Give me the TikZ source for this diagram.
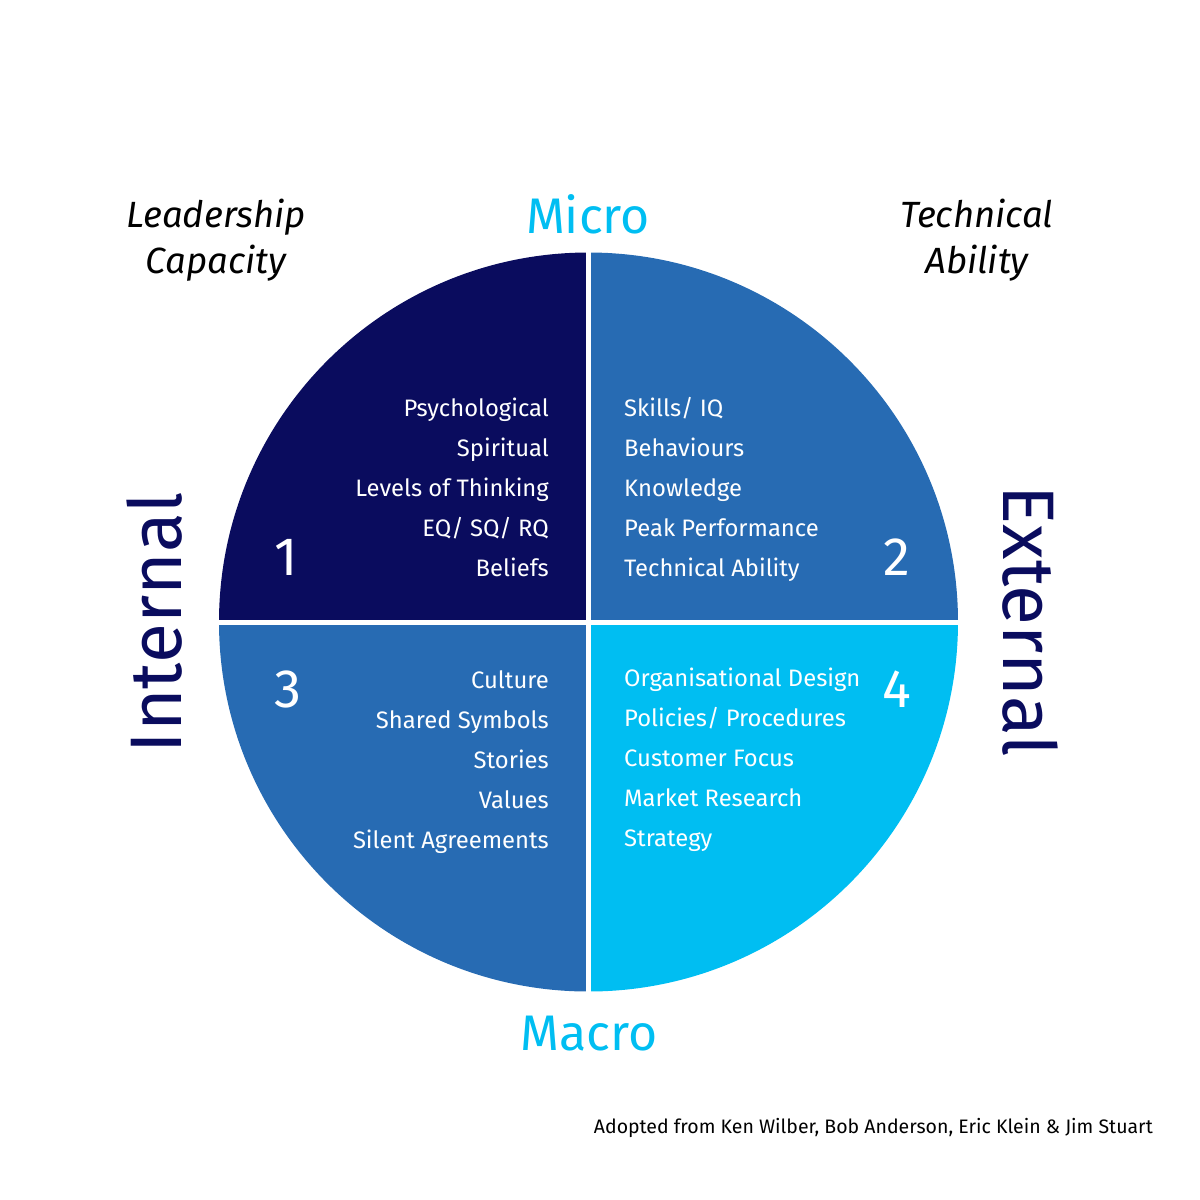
\documentclass[tikz,border=0pt]{standalone}
\usepackage{fontspec}
\setmainfont{Fira Sans}
\usepackage{tikz}
\definecolor{navy}{HTML}{0A0C5E}
\definecolor{midblue}{HTML}{276BB3}
\definecolor{skyblue}{HTML}{00BEF2}
\tikzset{
	item/.style={text=white, font=\fontsize{23.8}{28}\selectfont, inner sep=0pt},
	num/.style={text=white, font=\fontsize{54}{60}\selectfont, inner sep=0pt},
	axis/.style={text=skyblue, font=\fontsize{50}{56}\selectfont, inner sep=0pt},
	side/.style={text=navy, font=\fontsize{73}{80}\selectfont, inner sep=0pt},
	corner/.style={text=black, font=\itshape\fontsize{36.5}{46}\selectfont, inner sep=0pt, align=center}
}
\begin{document}
\begin{tikzpicture}[x=1pt, y=-1pt]
			\useasboundingbox (0,0) rectangle (1200,1200);
			\coordinate (C) at (588.5,622);
			
			% the four quadrants (y runs down, so 270 is up)
			\fill[navy] (C) -- (219,622) arc[start angle=180, end angle=270, radius=369.5] -- cycle;
			\fill[midblue] (C) -- (588.5,252.5) arc[start angle=270, end angle=360, radius=369.5] -- cycle;
			\fill[midblue] (C) -- (219,622) arc[start angle=180, end angle=90, radius=369.5] -- cycle;
			\fill[skyblue] (C) -- (958,622) arc[start angle=0, end angle=90, radius=369.5] -- cycle;
			\draw[white, line width=5pt] (588.5,240) -- (588.5,1005);
			\draw[white, line width=5pt] (205,622) -- (972,622);
			
			% quadrant 1
			\node[item, anchor=base east] (psy) at (549,416) {Psychological};
			\node[item, anchor=base east] (spi) at (549,456) {Spiritual};
			\node[item, anchor=base east] (lev) at (549,496) {Levels of Thinking};
			\node[item, anchor=base east] (eq) at (549,536) {EQ/ SQ/ RQ};
			\node[item, anchor=base east] (bel) at (549,576) {Beliefs};
			\node[num] (one) at (286,557) {1};
			
			% quadrant 2
			\node[item, anchor=base west] (ski) at (624,416) {Skills/ IQ};
			\node[item, anchor=base west] (beh) at (624,456) {Behaviours};
			\node[item, anchor=base west] (kno) at (624,496) {Knowledge};
			\node[item, anchor=base west] (pea) at (624,536) {Peak Performance};
			\node[item, anchor=base west] (tec) at (624,576) {Technical Ability};
			\node[num] (two) at (897,557) {2};
			
			% quadrant 3
			\node[item, anchor=base east] (cul) at (549,688) {Culture};
			\node[item, anchor=base east] (sha) at (549,728) {Shared Symbols};
			\node[item, anchor=base east] (sto) at (549,768) {Stories};
			\node[item, anchor=base east] (val) at (549,808) {Values};
			\node[item, anchor=base east] (sil) at (549,848) {Silent Agreements};
			\node[num] (three) at (288,689) {3};
			
			% quadrant 4
			\node[item, anchor=base west] (org) at (624,686) {Organisational Design};
			\node[item, anchor=base west] (pol) at (624,726) {Policies/ Procedures};
			\node[item, anchor=base west] (cus) at (624,766) {Customer Focus};
			\node[item, anchor=base west] (mar) at (624,806) {Market Research};
			\node[item, anchor=base west] (str) at (624,846) {Strategy};
			\node[num] (four) at (897,689) {4};
			
			% outside labels
			\node[axis] (micro) at (588,214) {Micro};
			\node[axis] (macro) at (589,1034) {Macro};
			\node[side, rotate=90] (internal) at (155,623) {Internal};
			\node[side, rotate=-90] (external) at (1030,621) {External};
			\node[corner] (lead) at (216,240) {Leadership\\Capacity};
			\node[corner] (tech) at (977,240) {Technical\\Ability};
			\node[anchor=base east, inner sep=0pt, font=\fontsize{19.5}{23}\selectfont] (src) at (1153,1133) {Adopted from Ken Wilber, Bob Anderson, Eric Klein \& Jim Stuart};
\end{tikzpicture}
\end{document}
